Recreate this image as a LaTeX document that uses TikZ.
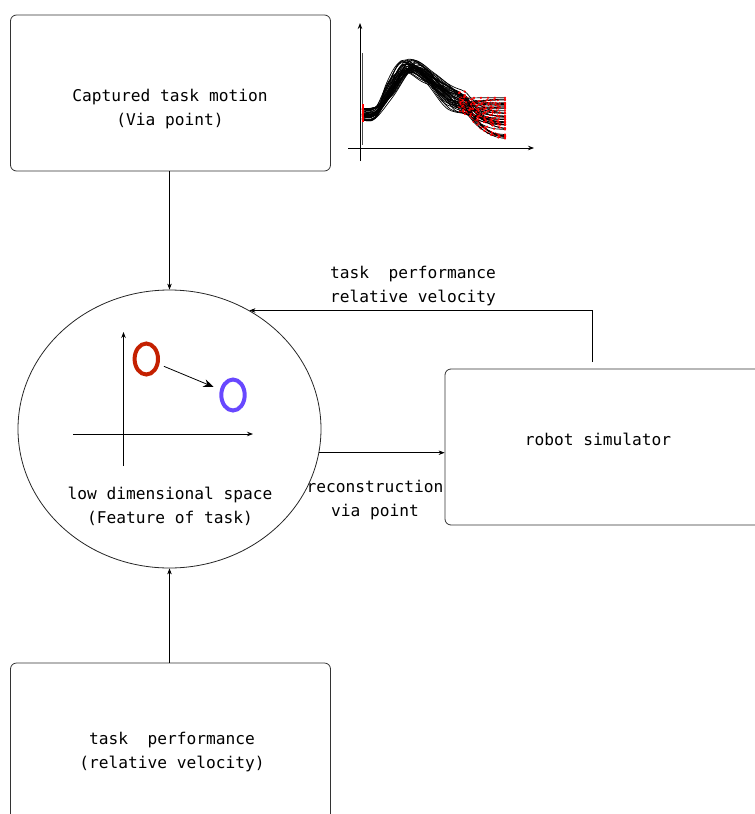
\documentclass[tikz,border=0pt]{standalone}
\usepackage{fontspec}
\newfontfamily\gothic{DejaVu Sans Mono}
\usetikzlibrary{shapes.geometric,arrows.meta}
\definecolor{redO}{RGB}{196,32,0}
\definecolor{blueO}{RGB}{104,72,255}
\begin{document}
\begin{tikzpicture}[x=1pt,y=-1pt,
  box/.style={draw=black!80, line width=0.8pt, rounded corners=6pt,
    minimum width=320pt, inner sep=0pt},
  txt/.style={font=\gothic\fontsize{16.2}{24}\selectfont, align=center, inner sep=0pt},
  conn/.style={-{Stealth[length=6pt,width=4.5pt]}, line width=0.6pt},
  axis/.style={-{Stealth[length=6pt,width=4.5pt]}, line width=0.8pt},
  ring/.style={draw=#1, line width=4pt, ellipse, inner sep=0pt,
    minimum width=23.4pt, minimum height=31pt},
  curve/.style={line width=0.7pt, black},
  ]
\useasboundingbox (0,0) rectangle (755,814);
\clip (0,0) rectangle (755,814);

% blocks
\node[box, minimum height=156pt] (cap) at (170.5,93) {};
\node[txt] (capT) at (170,109) {Captured task motion\\(Via point)};

\node[draw=black!85, line width=0.8pt, ellipse, inner sep=0pt,
  minimum width=303pt, minimum height=278pt] (sp) at (169.5,429) {};
\node[txt] (spT) at (170,506.5) {low dimensional space\\(Feature of task)};

\node[box, minimum height=156pt] (sim) at (605,447) {};
\node[txt] (simT) at (598,439) {robot simulator};

\node[box, minimum height=178pt] (perf) at (170.5,752) {};
\node[txt] (perfT) at (172,752) {task~~performance\\(relative velocity)};

% connector labels
\node[txt] (fbT) at (413,286) {task~~performance\\relative velocity};
\node[txt] (recT) at (375,500) {reconstruction\\via point};

% connectors
\draw[conn] (cap.south -| sp.north) -- (sp.north);
\draw[conn] (perf.north -| sp.south) -- (sp.south);
\draw[conn] (sp.-9.5) -- (sp.-9.5 -| sim.west);
\coordinate (fb) at (592,362);
\draw[conn] (fb) |- (sp.56.5);

% feature space sketch inside the ellipse
\draw[axis] (123.5,466) -- (123.5,332);
\draw[axis] (73,434) -- (253,434);
\node[ring=redO] (o1) at (146.3,359) {};
\node[ring=blueO] (o2) at (233,395) {};
\draw[-{Stealth[length=10pt,width=8pt]}, line width=0.8pt,
  shorten <=5pt, shorten >=7pt] (o1) -- (o2);

% captured trajectories
\draw[line width=1pt, black!70] (362,53) -- (362,145);
\draw[axis] (360,161) -- (360,23);
\draw[axis] (348,148) -- (534,148);
\pgfmathsetseed{7}
\foreach \i in {1,...,40}{
  \pgfmathsetmacro\ra{rand}
  \pgfmathsetmacro\rb{rand}
  \pgfmathsetmacro\rc{rand}
  \pgfmathsetmacro\rd{rand}
  \pgfmathsetmacro\re{rand}
  \pgfmathsetmacro\rf{rand}
  \pgfmathsetmacro\h{7*\rb}
  \pgfmathsetmacro\ya{114+6*\ra}
  \pgfmathsetmacro\yr{90+7*\rf}
  \pgfmathsetmacro\yp{66+7*\re}
  \pgfmathsetmacro\ym{103+12*\rc}
  \pgfmathsetmacro\ye{118+22*\rd}
  \pgfmathsetmacro\dx{3*\rf}
  \pgfmathsetmacro\ta{\ym+(\ye-\ym)*0.35}
  \pgfmathsetmacro\tb{\ym+(\ye-\ym)*0.6}
  \pgfmathsetmacro\tc{\ym+(\ye-\ym)*0.78}
  \pgfmathsetmacro\td{\ym+(\ye-\ym)*0.9}
  \pgfmathsetmacro\te{\ym+(\ye-\ym)*0.97}
  \draw[curve] plot[smooth, tension=0.6] coordinates {
    (362,\ya) (375,\ya-1) (390+0.5*\h,\yr) (408+\h,\yp) (428+\h,\yp+10)
    (450+\h,\ym-6) (462+\dx,\ym) (469+\dx,\ta) (476+\dx,\tb) (483+\dx,\tc)
    (490+\dx,\td) (497+\dx,\te) (505,\ye)};
  \draw plot[only marks, mark=*, mark size=0.9pt,
    mark options={draw=red, fill=red}] coordinates {
    (462+\dx,\ym) (469+\dx,\ta) (476+\dx,\tb) (483+\dx,\tc) (490+\dx,\td)
    (497+\dx,\te) (505,\ye)};
}
\draw[red, line width=2pt] (363,104) -- (363,122);
\end{tikzpicture}
\end{document}
